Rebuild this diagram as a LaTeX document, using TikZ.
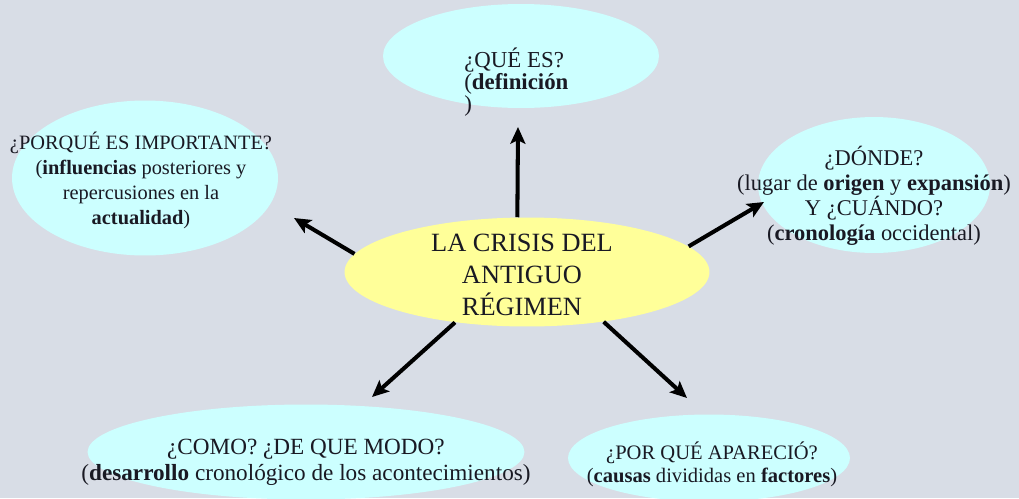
\documentclass[tikz,border=0pt]{standalone}
\usepackage{fontspec}
\setmainfont{Liberation Serif}
\usetikzlibrary{shapes.geometric,arrows.meta}
\definecolor{fondo}{RGB}{216,221,230}
\definecolor{celeste}{RGB}{204,255,255}
\definecolor{amarillo}{RGB}{255,255,153}
\definecolor{tinta}{RGB}{25,25,35}
\tikzset{
 burbuja/.style={ellipse,fill=celeste,inner sep=0pt},
 texto/.style={text=tinta,align=center,inner sep=0pt},
 flecha/.style={line width=2.3pt,-{Stealth[length=9.5pt,width=8.5pt,inset=2pt]}}
}

\begin{document}
\begin{tikzpicture}[x=0.02cm,y=-0.02cm]
 \fill[fondo](0,0) rectangle (1019,498);
 \useasboundingbox (0,0) rectangle (1019,498);
 % burbujas
 \node[burbuja,minimum width=5.52cm,minimum height=2.08cm] (quees) at (521,56) {};
 \node[burbuja,minimum width=5.32cm,minimum height=3.1cm] (porque) at (145,178) {};
 \node[burbuja,minimum width=4.64cm,minimum height=2.72cm] (donde) at (874,185) {};
 \node[burbuja,minimum width=8.74cm,minimum height=1.9cm] (como) at (306,452) {};
 \node[burbuja,minimum width=5.64cm,minimum height=1.74cm] (aparecio) at (709,458) {};
 \node[ellipse,fill=amarillo,inner sep=0pt,minimum width=7.3cm,minimum height=2.18cm] (crisis) at (527,272) {};
 % puntas de flecha
 \coordinate (pQue) at (518,127);
 \coordinate (pPorque) at (294,218);
 \coordinate (pDonde) at (764,202);
 \coordinate (pComo) at (372,397);
 \coordinate (pAparecio) at (687,398);
 \draw[flecha] (crisis.100) -- (pQue);
 \draw[flecha] (crisis.174) -- (pPorque);
 \draw[flecha] (crisis.9) -- (pDonde);
 \draw[flecha] (crisis.215) -- (pComo);
 \draw[flecha] (crisis.327) -- (pAparecio);
 % textos
 \node[texto,font=\fontsize{15}{18}\selectfont] (crisisT) at (522,275) {LA CRISIS DEL\\ANTIGUO\\RÉGIMEN};
 \node[texto,align=left,anchor=west,font=\fontsize{13}{12.5}\selectfont] (queesT) at (464,82) {¿QUÉ ES?\\(\textbf{definición}\\)};
 \node[texto,font=\fontsize{11.6}{14.2}\selectfont] (porqueT) at (141,180) {¿PORQUÉ ES IMPORTANTE?\\(\textbf{influencias} posteriores y\\repercusiones en la\\\textbf{actualidad})};
 \node[texto,font=\fontsize{12.8}{14.2}\selectfont] (dondeT) at (874,196) {¿DÓNDE?\\(lugar de \textbf{origen} y \textbf{expansión})\\Y ¿CUÁNDO?\\(\textbf{cronología} occidental)};
 \node[texto,font=\fontsize{13.2}{14.8}\selectfont] (comoT) at (306,462) {¿COMO? ¿DE QUE MODO?\\(\textbf{desarrollo} cronológico de los acontecimientos)};
 \node[texto,font=\fontsize{11.7}{13}\selectfont] (aparecioT) at (712,464) {¿POR QUÉ APARECIÓ?\\(\textbf{causas} divididas en \textbf{factores})};
\end{tikzpicture}
\end{document}
